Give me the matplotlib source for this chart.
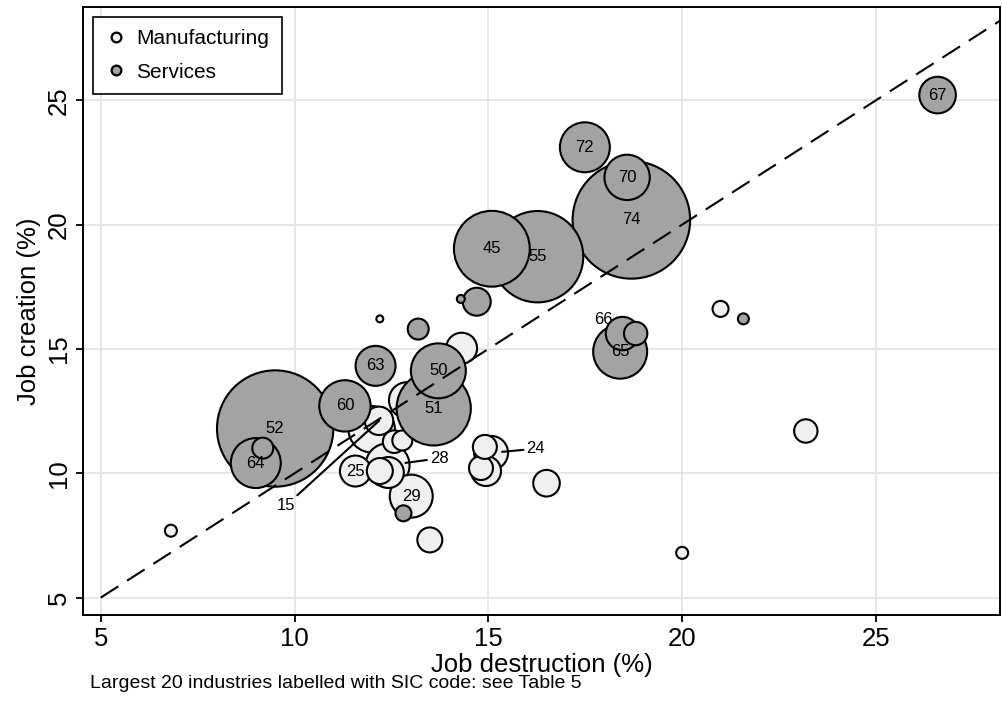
import matplotlib
matplotlib.use("Agg")
import matplotlib.pyplot as plt
from matplotlib.lines import Line2D
import numpy as np

plt.rcParams["font.family"] = ["Liberation Sans", "DejaVu Sans"]

# Job flows by industry: destruction / creation rates (%) and employment weight
mfg_destr = [23.19, 20.99, 20.00, 6.81, 12.20, 14.31, 12.90, 12.18, 11.99, 12.57,
             12.78, 12.40, 12.20, 12.42, 11.57, 13.01, 13.49, 14.91, 15.07, 14.81,
             14.94, 16.50]
mfg_creat = [11.70, 16.61, 6.80, 7.69, 16.21, 15.03, 12.94, 12.11, 11.77, 11.27,
             11.32, 10.32, 10.09, 10.03, 10.09, 9.08, 7.32, 11.06, 10.82, 10.21,
             10.09, 9.60]
mfg_emp = [1.37, 0.64, 0.36, 0.36, 0.12, 2.40, 3.24, 2.02, 5.40, 1.28,
           1.00, 4.84, 1.69, 2.40, 2.40, 4.62, 1.56, 1.44, 2.89, 1.44,
           2.25, 1.77]
mfg_sic = ["", "", "", "", "", "", "", "15", "", "",
           "", "28", "", "", "25", "29", "", "", "24", "",
           "", ""]

srv_destr = [26.59, 17.49, 18.58, 18.69, 15.09, 16.27, 14.70, 14.29, 13.19, 12.09,
             13.71, 13.59, 11.30, 9.50, 9.00, 9.18, 18.46, 18.40, 18.80, 21.58,
             12.81]
srv_creat = [25.21, 23.11, 21.90, 20.19, 19.03, 18.71, 16.90, 17.01, 15.80, 14.32,
             14.12, 12.61, 12.71, 11.80, 10.41, 11.01, 15.62, 14.89, 15.62, 16.21,
             8.39]
srv_emp = [3.35, 6.25, 5.15, 34.6, 14.4, 20.9, 1.96, 0.16, 1.10, 4.00,
           7.56, 13.8, 6.60, 33.9, 6.25, 1.10, 2.79, 7.29, 1.37, 0.30,
           0.64]
srv_sic = ["67", "72", "70", "74", "45", "55", "", "", "", "63",
           "50", "51", "60", "52", "64", "", "66", "65", "", "",
           ""]

# labels drawn beside their bubble: offset (points) and leader-line trim
offset_labels = {"15": (-67, -61, 0), "28": (37, 5, 13), "24": (32, 3, 8), "66": (-14, 10, None)}

ticks = [5, 10, 15, 20, 25]
size_scale = 207.0
mfg_color = "#efefef"
srv_color = "#a3a3a3"

fig = plt.figure(figsize=(10.02, 7.18), dpi=100)
ax = fig.add_axes([83.3 / 1002, 1 - 615 / 718, 916.7 / 1002, 607.7 / 718])


def draw_group(xs, ys, emp, codes, color, z):
    order = np.argsort(emp)[::-1]
    ax.scatter(np.array(xs)[order], np.array(ys)[order], s=np.array(emp)[order] * size_scale,
               c=color, edgecolors="black", linewidths=1.5, zorder=z)
    for bx, by, code in zip(xs, ys, codes):
        if not code:
            continue
        if code in offset_labels:
            dx, dy, trim = offset_labels[code]
            props = None
            if trim is not None:
                props = dict(arrowstyle="-", lw=1.5, color="black",
                             shrinkA=0, shrinkB=trim)
            ax.annotate(code, xy=(bx, by), xytext=(dx, dy), textcoords="offset points",
                        ha="center", va="center", fontsize=12, zorder=6,
                        arrowprops=props)
        else:
            ax.text(bx, by, code, ha="center", va="center", fontsize=12, zorder=z + 0.5)


draw_group(mfg_destr, mfg_creat, mfg_emp, mfg_sic, mfg_color, 2)
draw_group(srv_destr, srv_creat, srv_emp, srv_sic, srv_color, 3)

# 45-degree line: creation equals destruction
xmin, xmax = 4.55, 28.2
ax.plot([5, xmax], [5, xmax], color="black", lw=1.5, ls=(0, (10, 5)), zorder=5)

ax.set_xlim(xmin, xmax)
ax.set_ylim(4.30, 28.74)
ax.set_xticks(ticks)
ax.set_yticks(ticks)
ax.set_yticklabels([str(t) for t in ticks], rotation=90, va="center")
ax.tick_params(direction="out", length=5, width=1.3, labelsize=18.5, pad=4)
ax.grid(True, color="#e5e5e5", lw=1.3)
ax.set_axisbelow(True)
for sp in ax.spines.values():
    sp.set_linewidth(1.4)

ax.set_xlabel("Job destruction (%)", fontsize=18.5, labelpad=1)
ax.set_ylabel("Job creation (%)", fontsize=18.5, labelpad=4)

handles = [
    Line2D([], [], ls="", marker="o", markersize=7, markerfacecolor=mfg_color,
           markeredgecolor="black", markeredgewidth=1.6, label="Manufacturing"),
    Line2D([], [], ls="", marker="o", markersize=7, markerfacecolor=srv_color,
           markeredgecolor="black", markeredgewidth=1.6, label="Services"),
]
leg = ax.legend(handles=handles, loc="upper left", fontsize=15, fancybox=False,
                framealpha=1, edgecolor="black", borderaxespad=0.45,
                handletextpad=0.5, labelspacing=0.7, borderpad=0.6, handlelength=1.0)
leg.get_frame().set_linewidth(1.2)
leg.set_zorder(10)

fig.text(90 / 1002, 1 - 683 / 718, "Largest 20 industries labelled with SIC code: see Table 5",
         fontsize=14, va="center", ha="left")

fig.savefig("out.png", dpi=100)
